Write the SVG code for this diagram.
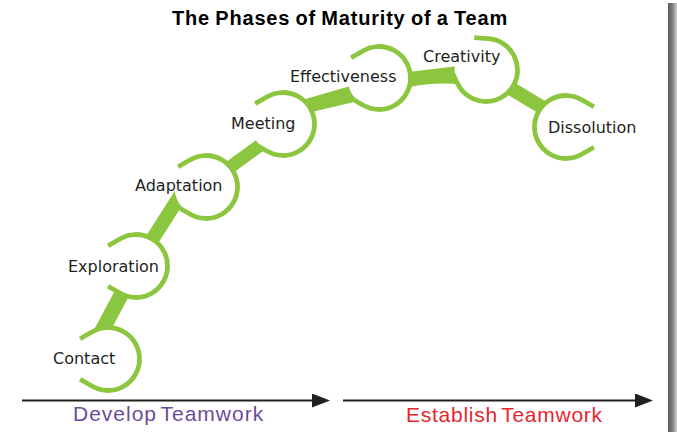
<svg xmlns="http://www.w3.org/2000/svg" xmlns:xlink="http://www.w3.org/1999/xlink" width="677" height="432" viewBox="0 0 677 432">
  <style>
    .band { fill: #8cc63f; stroke: none; }
    .bandline { stroke: #8cc63f; fill: none; stroke-linecap: butt; }
    .disc { fill: #ffffff; stroke: none; }
    .ring { fill: none; stroke: #8cc63f; stroke-width: 4.8; stroke-linecap: butt; stroke-linejoin: round; }
    .label { font-family: "DejaVu Sans", Verdana, sans-serif; font-size: 16px; fill: #231f20; }
    .title { font-family: "Liberation Sans", Arial, sans-serif; font-size: 20px; font-weight: bold; fill: #000000; letter-spacing: 0.8px; word-spacing: -1px; }
    .axis { stroke: #231f20; stroke-width: 2.2; fill: none; }
    .phase { font-family: "Liberation Sans", Arial, sans-serif; font-size: 21px; word-spacing: -3px; }
  </style>
  <defs>
    <!-- open ring: gap on the left, with short straight tails at both ends -->
    <path id="ring" d="M -27.87 -20.28 L -15.75 -27.28 A 31.5 31.5 0 1 1 -15.75 27.28 L -27.87 20.28"/>
    <marker id="head" markerUnits="userSpaceOnUse" markerWidth="18" markerHeight="14" refX="4" refY="7" orient="auto">
      <path d="M0,0 L18,7 L0,14 z" fill="#231f20"/>
    </marker>
    <linearGradient id="edge" x1="0" y1="0" x2="1" y2="0">
      <stop offset="0" stop-color="#5a5a5a"/>
      <stop offset="0.45" stop-color="#7a7a7a"/>
      <stop offset="1" stop-color="#d0d0d0"/>
    </linearGradient>
  </defs>

  <rect width="677" height="432" fill="#ffffff"/>
  <rect x="668" y="3" width="9" height="429" fill="url(#edge)"/>

  <text class="title" x="172" y="25">The Phases of Maturity of a Team</text>

  <!-- connecting bands between the stages -->
  <g id="connectors">
    <line class="bandline" x1="96" y1="342" x2="128" y2="282" stroke-width="15"/>
    <line class="bandline" x1="150" y1="243" x2="190" y2="180" stroke-width="14"/>
    <line class="bandline" x1="215" y1="178" x2="270" y2="138" stroke-width="13"/>
    <polygon class="band" points="296.6,115.5 293.4,102.5 358.1,83.7 361.9,100.3"/>
    <path class="band" d="M400,73 L458,66 L458,84 Q430,82 400,89 Z"/>
    <line class="bandline" x1="500" y1="82" x2="555" y2="115" stroke-width="14"/>
  </g>

  <g id="contact">
    <circle class="disc" cx="108" cy="359" r="31.5"/>
    <use xlink:href="#ring" class="ring" transform="translate(108,359)"/>
    <text class="label" x="53" y="364">Contact</text>
  </g>
  <g id="exploration">
    <circle class="disc" cx="136" cy="266" r="31.5"/>
    <use xlink:href="#ring" class="ring" transform="translate(136,266)"/>
    <text class="label" x="68" y="272">Exploration</text>
  </g>
  <g id="adaptation">
    <circle class="disc" cx="206" cy="187" r="31.5"/>
    <use xlink:href="#ring" class="ring" transform="translate(206,187)"/>
    <text class="label" x="135" y="191">Adaptation</text>
  </g>
  <g id="meeting">
    <circle class="disc" cx="283" cy="124" r="31.5"/>
    <use xlink:href="#ring" class="ring" transform="translate(283,124)"/>
    <text class="label" x="231" y="129">Meeting</text>
  </g>
  <g id="effectiveness">
    <circle class="disc" cx="379" cy="78" r="31.5"/>
    <use xlink:href="#ring" class="ring" transform="translate(379,78)"/>
    <text class="label" x="290" y="82">Effectiveness</text>
  </g>
  <g id="creativity">
    <circle class="disc" cx="486" cy="70" r="31.5"/>
    <use xlink:href="#ring" class="ring" transform="translate(486,70) rotate(34)"/>
    <text class="label" x="423" y="62">Creativity</text>
  </g>
  <g id="dissolution">
    <circle class="disc" cx="566" cy="127" r="31.5"/>
    <use xlink:href="#ring" class="ring" transform="translate(566,127) rotate(180)"/>
    <text class="label" x="548" y="133">Dissolution</text>
  </g>

  <g id="timeline">
    <line class="axis" x1="22" y1="400.5" x2="316" y2="400.5" marker-end="url(#head)"/>
    <line class="axis" x1="343" y1="400.5" x2="639" y2="400.5" marker-end="url(#head)"/>
    <text class="phase" x="73" y="421" fill="#6b4c9a" letter-spacing="1">Develop Teamwork</text>
    <text class="phase" x="406" y="422" fill="#e6262e" letter-spacing="0.75">Establish Teamwork</text>
  </g>
</svg>
